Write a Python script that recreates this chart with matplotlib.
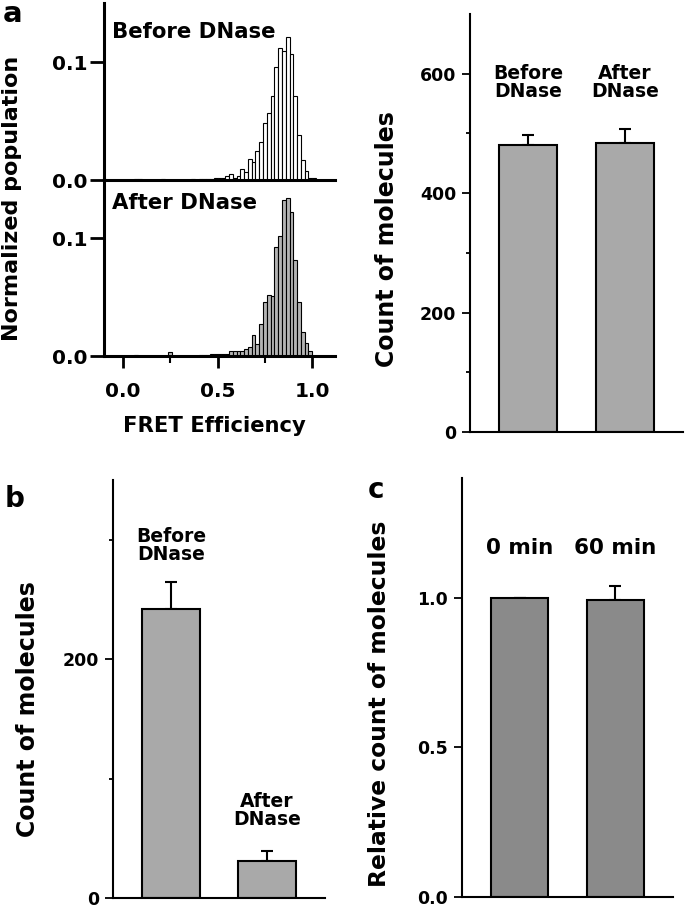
import matplotlib
matplotlib.use("Agg")
import matplotlib.pyplot as plt
import numpy as np
from matplotlib.ticker import FixedLocator

plt.rcParams['font.family'] = ['DejaVu Sans']
plt.rcParams['font.weight'] = 'bold'
plt.rcParams['axes.labelweight'] = 'bold'

W, H = 685, 910

# FRET histograms, bins of 0.02 starting at 0.0
bin_width = 0.02
fret_bins = np.round(np.arange(0.01, 1.02, bin_width), 2)
before_hist = [0, 0, 0, 0.001, 0.001, 0, 0, 0, 0, 0,
               0.001, 0, 0, 0, 0, 0, 0, 0, 0.001, 0,
               0.001, 0.001, 0.001, 0.001, 0.002, 0.002, 0.002, 0.003, 0.005, 0.002,
               0.003, 0.009, 0.007, 0.018, 0.015, 0.025, 0.032, 0.048, 0.057, 0.071,
               0.096, 0.112, 0.109, 0.121, 0.107, 0.071, 0.038, 0.017, 0.008, 0.002,
               0.002]
after_hist = [0, 0, 0, 0.001, 0, 0, 0, 0, 0, 0,
              0, 0, 0.003, 0, 0, 0, 0, 0, 0, 0,
              0.001, 0.001, 0.001, 0.002, 0.002, 0.002, 0.002, 0.002, 0.0045, 0.0045,
              0.0045, 0.0045, 0.006, 0.008, 0.018, 0.010, 0.027, 0.046, 0.052, 0.051,
              0.092, 0.102, 0.1325, 0.134, 0.122, 0.0815, 0.046, 0.020, 0.011, 0.0045,
              0]

# bar panels
labels_a = ["Before\nDNase", "After\nDNase"]
count_a = [481, 484]
err_a = [17, 24]

labels_b = ["Before\nDNase", "After\nDNase"]
count_b = [242, 31]
err_b = [23, 8]

labels_c = ["0 min", "60 min"]
rel_c = [1.0, 0.993]
err_c = [0.0, 0.045]


def box(left, top, right, bottom):
    return [left / W, 1 - bottom / H, (right - left) / W, (bottom - top) / H]


def fx(x):
    return x / W


def fy(y):
    return 1 - y / H


fig = plt.figure(figsize=(W / 100, H / 100), dpi=100)

# ---- panel a: histograms
ax_top = fig.add_axes(box(104, 3, 335, 180))
ax_bot = fig.add_axes(box(104, 179, 335, 356))
for ax, vals, fc in [(ax_top, before_hist, 'white'), (ax_bot, after_hist, '#b4b4b4')]:
    ax.bar(fret_bins, vals, width=bin_width, color=fc, edgecolor='black', linewidth=0.8)
    ax.set_xlim(-0.1, 1.12)
    ax.set_ylim(0, 0.15)
    ax.spines['top'].set_visible(False)
    ax.spines['right'].set_visible(False)
    ax.spines['left'].set_linewidth(2.2)
    ax.spines['bottom'].set_linewidth(2.2)
    ax.yaxis.set_major_locator(FixedLocator([0.0, 0.1]))
    ax.set_yticklabels(['0.0', '0.1'])
    ax.tick_params(axis='y', direction='out', length=10, width=2.0, labelsize=14.5, pad=2)
    ax.set_facecolor('none')

ax_top.tick_params(axis='x', which='both', bottom=False, labelbottom=False)
ax_bot.xaxis.set_major_locator(FixedLocator([0.0, 0.5, 1.0]))
ax_bot.xaxis.set_minor_locator(FixedLocator([0.25, 0.75]))
ax_bot.set_xticklabels(['0.0', '0.5', '1.0'])
ax_bot.tick_params(axis='x', which='major', direction='out', length=8.5, width=2.0, labelsize=14.5, pad=10)
ax_bot.tick_params(axis='x', which='minor', direction='out', length=5, width=1.5)

fig.text(fx(112), fy(38), "Before DNase", fontsize=15.3, ha='left', va='baseline')
fig.text(fx(112), fy(209), "After DNase", fontsize=15.3, ha='left', va='baseline')
fig.text(fx(12), fy(198), "Normalized population", rotation=90, fontsize=16,
         ha='center', va='center')
fig.text(fx(214), fy(432), "FRET Efficiency", fontsize=15.2, ha='center', va='baseline')
fig.text(fx(3), fy(22), "a", fontsize=21, ha='left', va='baseline')


def bar_panel(rect, vals, errs, labels, color, ymax, major, minor, label_y, label_size):
    ax = fig.add_axes(rect)
    xs = [1, 2]
    ax.bar(xs, vals, width=0.6, color=color, edgecolor='black', linewidth=1.5, zorder=2)
    ax.errorbar(xs, vals, yerr=[np.zeros(len(errs)), errs], fmt='none', ecolor='black',
                elinewidth=1.5, capsize=4, capthick=1.5, zorder=1)
    ax.set_xlim(0.4, 2.6)
    ax.set_ylim(0, ymax)
    ax.spines['top'].set_visible(False)
    ax.spines['right'].set_visible(False)
    ax.spines['left'].set_linewidth(1.5)
    ax.spines['bottom'].set_linewidth(1.5)
    ax.set_xticks([])
    ax.yaxis.set_major_locator(FixedLocator(major))
    if minor:
        ax.yaxis.set_minor_locator(FixedLocator(minor))
    ax.tick_params(axis='y', which='major', direction='out', length=6, width=1.3,
                   labelsize=12.5, pad=4)
    ax.tick_params(axis='y', which='minor', direction='out', length=3, width=1.3)
    for t in ax.get_yticklabels():
        t.set_verticalalignment('center_baseline')
    for x, lab, ly in zip(xs, labels, label_y):
        ax.text(x, ly, lab, fontsize=label_size, ha='center', va='top', linespacing=0.95)
    return ax


ax_a = bar_panel(box(470, 14, 683, 432), count_a, err_a, labels_a, '#a9a9a9', 700,
                 [0, 200, 400, 600], [100, 300, 500], [616, 616], 13.5)
fig.text(fx(387), fy(239), "Count of molecules", rotation=90, fontsize=17,
         ha='center', va='center')

ax_b = bar_panel(box(113, 480, 325, 898), count_b, err_b, labels_b, '#a9a9a9', 350,
                 [0, 200], [100, 300], [311, 89], 13.5)
fig.text(fx(28), fy(709), "Count of molecules", rotation=90, fontsize=17,
         ha='center', va='center')
fig.text(fx(5), fy(507), "b", fontsize=20, ha='left', va='baseline')

ax_c = bar_panel(box(462, 478, 673, 897), rel_c, err_c, labels_c, '#8a8a8a', 1.4,
                 [0.0, 0.5, 1.0], None, [1.20, 1.20], 15.5)
ax_c.set_yticklabels(['0.0', '0.5', '1.0'])
for t in ax_c.get_yticklabels():
    t.set_verticalalignment('center_baseline')
fig.text(fx(380), fy(704), "Relative count of molecules", rotation=90, fontsize=16.8,
         ha='center', va='center')
fig.text(fx(368), fy(498), "c", fontsize=20, ha='left', va='baseline')

fig.savefig("out.png", dpi=100)
